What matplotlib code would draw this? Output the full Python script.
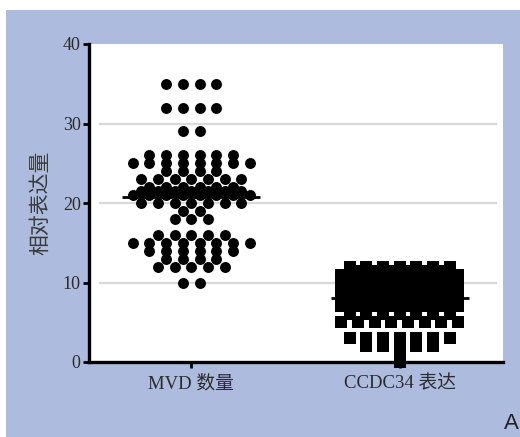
import numpy as np
import matplotlib

matplotlib.use("Agg")
import matplotlib.pyplot as plt  # noqa: E402
from matplotlib.patches import Rectangle  # noqa: E402

# Valores (nivel -> numero de pontos)
categories = ["MVD 数量", "CCDC34 表达"]

mvd_levels = [35, 32, 29, 26, 25, 24, 23, 22, 21.5, 21, 20, 19, 18,
              16, 15, 14, 13, 12, 10]
mvd_counts = [4, 4, 2, 6, 8, 4, 7, 6, 7, 8, 7, 2, 3, 5, 8, 6, 4, 5, 2]

ccdc_levels = [12, 11.5, 11, 10.5, 10, 9.5, 9, 8.5, 8, 7.5, 7, 6, 5, 3, 2, 1, 0]
ccdc_counts = [7, 6, 8, 7, 8, 7, 8, 7, 8, 7, 8, 7, 8, 7, 5, 1, 1]

y_ticks = [0, 10, 20, 30, 40]
grid_values = [10, 20, 30]

BG = "#adbbde"
TXT = "#2b2b2b"


def swarm(levels, counts, center, spacing):
    """Pontos de mesmo nivel lado a lado, centrados na categoria."""
    xs, ys = [], []
    for lv, n in zip(levels, counts):
        off = (np.arange(n) - (n - 1) / 2.0) * spacing
        xs.extend(center + off)
        ys.extend([lv] * n)
    return np.array(xs), np.array(ys, dtype=float)


fig = plt.figure(figsize=(5.2, 4.37), dpi=100)
fig.patch.set_facecolor("white")
fig.patches.append(Rectangle((6 / 520, 0), 1, (437 - 10) / 437,
                             transform=fig.transFigure, facecolor=BG,
                             edgecolor="none", zorder=-5))

ax = fig.add_axes([89 / 520, 75 / 437, 414 / 520, 318 / 437])
ax.set_zorder(2)
ax.set_facecolor("white")

for g in grid_values:
    ax.axhline(g, xmin=0.027, xmax=0.983, color="#d9d9d9", lw=1.6, zorder=1)

x1, y1 = swarm(mvd_levels, mvd_counts, 0, 0.08)
ax.scatter(x1, y1, s=62, marker="o", color="black", linewidths=0,
           zorder=3, clip_on=False)
x2, y2 = swarm(ccdc_levels, ccdc_counts, 1, 0.08)
ax.scatter(x2, y2, s=86, marker="s", color="black", linewidths=0,
           zorder=3, clip_on=False)

# linha da media
for i, ys in enumerate([y1, y2]):
    m = np.mean(ys)
    ax.plot([i - 0.33, i + 0.33], [m, m], color="black", lw=2, zorder=4,
            solid_capstyle="butt")

ax.set_xlim(-0.49, 1.495)
ax.set_ylim(0, 40)
ax.set_yticks(y_ticks)
ax.set_yticklabels([str(t) for t in y_ticks], family="Liberation Serif",
                   fontsize=13, color=TXT)
ax.set_xticks([0, 1])
ax.set_xticklabels(categories, family=["Liberation Serif", "Noto Sans CJK SC"],
                   fontsize=13.5, color=TXT)
ax.tick_params(axis="y", length=4, width=2, pad=2, direction="out")
ax.tick_params(axis="x", length=4, width=2, pad=5, direction="out")

for side in ["top", "right"]:
    ax.spines[side].set_visible(False)
for side in ["left", "bottom"]:
    ax.spines[side].set_linewidth(2.4)
    ax.spines[side].set_zorder(2)

ax.set_ylabel("相对表达量", family=["Noto Sans CJK SC", "DejaVu Sans"],
              fontsize=15, color="#3a3a3a", labelpad=8)

fig.text(0.969, 0.008, "A", family="Liberation Sans", fontsize=16,
         color="#222222", ha="left", va="bottom")

fig.savefig("out.png", dpi=100, facecolor=fig.get_facecolor())
plt.close(fig)
